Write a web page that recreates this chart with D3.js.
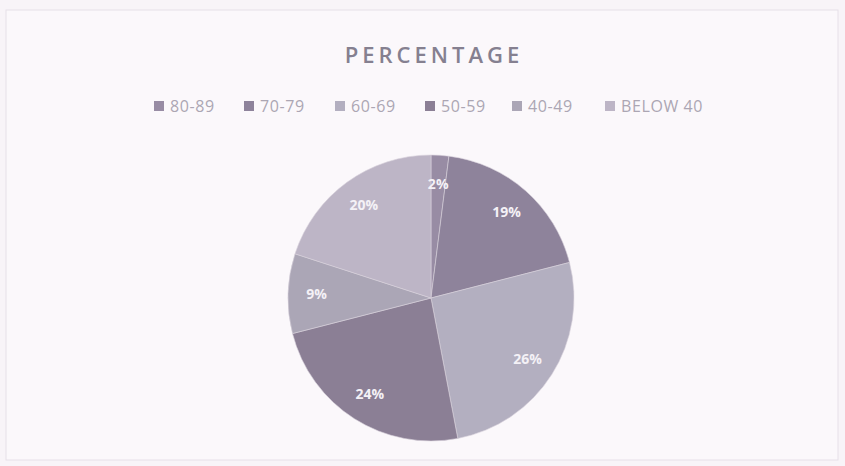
<!DOCTYPE html>
<html>
<head>
<meta charset="utf-8">
<script src="https://cdn.jsdelivr.net/npm/d3@7/dist/d3.min.js"></script>
<style>
  body { margin: 0; background: #f8f4f8; }
  #chart { width: 845px; height: 466px; }
</style>
</head>
<body>
<div id="chart"></div>
<script>
// chart data
const categories = ["80-89", "70-79", "60-69", "50-59", "40-49", "BELOW 40"];
const percentages = [2, 19, 26, 24, 9, 20];
const sliceColors = ["#988ca4", "#8e839b", "#b3afc0", "#8b7f95", "#aba6b6", "#bdb5c6"];

const width = 845, height = 466;
const cx = 431, cy = 298, radius = 143;

const svg = d3.select('#chart').append('svg')
    .attr('width', width)
    .attr('height', height);

// faint chart frame
svg.append('rect')
    .attr('x', 6).attr('y', 10)
    .attr('width', 832).attr('height', 450)
    .attr('fill', '#fbf8fb')
    .attr('stroke', '#e6e0e8')
    .attr('stroke-width', 1);

// title
svg.append('text')
    .attr('x', 434).attr('y', 63)
    .attr('text-anchor', 'middle')
    .style('font-family', 'Open Sans, sans-serif')
    .style('font-size', '22px')
    .style('font-weight', '600')
    .style('letter-spacing', '4px')
    .style('fill', '#858090')
    .text('PERCENTAGE');

// legend
const legendX = [154, 244, 335, 425, 512, 605];
const legend = svg.append('g');
categories.forEach((c, i) => {
    const g = legend.append('g').attr('transform', `translate(${legendX[i]},112)`);
    g.append('rect')
        .attr('x', 0).attr('y', -11)
        .attr('width', 10).attr('height', 10)
        .attr('fill', sliceColors[i]);
    g.append('text')
        .attr('x', 16).attr('y', 0)
        .style('font-family', 'Open Sans, sans-serif')
        .style('font-size', '16px')
        .style('letter-spacing', '0.6px')
        .style('fill', '#aca6b3')
        .text(c);
});

// pie
const pie = d3.pie().sort(null).value(d => d);
const arcs = pie(percentages);
const arc = d3.arc().innerRadius(0).outerRadius(radius);
const labelArc = d3.arc().innerRadius(radius * 0.8).outerRadius(radius * 0.8);

const g = svg.append('g').attr('transform', `translate(${cx},${cy})`);

g.selectAll('path')
    .data(arcs)
    .enter().append('path')
    .attr('d', arc)
    .attr('fill', (d, i) => sliceColors[i])
    .attr('stroke', '#d8d2dc')
    .attr('stroke-width', 0.6);

g.selectAll('text.lbl')
    .data(arcs)
    .enter().append('text')
    .attr('class', 'lbl')
    .attr('transform', d => `translate(${labelArc.centroid(d)})`)
    .attr('text-anchor', 'middle')
    .attr('dy', '0.35em')
    .style('font-family', 'Open Sans, sans-serif')
    .style('font-size', '14px')
    .style('font-weight', 'bold')
    .style('fill', '#f4f1f6')
    .text(d => d.data + '%');
</script>
</body>
</html>
